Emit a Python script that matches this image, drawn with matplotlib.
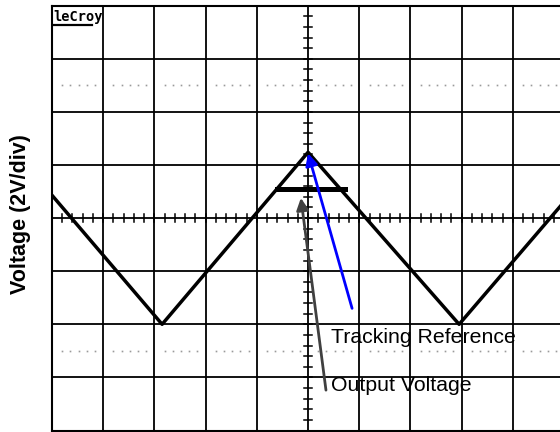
#!/usr/bin/env python3
"""
Oscilloscope capture: tracking reference (triangle) and clipped output voltage
"""
import numpy as np
import matplotlib
matplotlib.use("Agg")
import matplotlib.pyplot as plt

# trace vertices in scope divisions (x: time div, y: 2V/div)
ref_x = [-5.0, -2.85, 0.0, 2.95, 4.95]
ref_y = [0.43, -2.0, 1.24, -2.0, 0.25]

# output voltage clips flat near the top of the triangle
out_x = [-0.6, 0.72]
out_y = [0.54, 0.54]

# annotation (text position, arrow tip)
ann_ref = {"text": "Tracking Reference", "xy": (0.0, 1.22), "xytext": (0.86, -1.70),
           "label_at": (0.45, -2.24)}
ann_out = {"text": "Output Voltage", "xy": (-0.14, 0.38), "xytext": (0.35, -3.24),
           "label_at": (0.45, -3.16)}

ylabel = "Voltage (2V/div)"


def draw_graticule(ax):
    """
    Scope-like grid: solid division lines, dotted rows and ticked centre axes
    """
    for gx in range(-4, 5):
        ax.axvline(gx, color="black", lw=1.3, zorder=1)
    for gy in range(-3, 4):
        ax.axhline(gy, color="black", lw=1.3, zorder=1)
    # dotted rows at +/-2.5 div
    dots = np.array([0.2, 0.36, 0.52, 0.68, 0.84])
    for col in range(-5, 5):
        for gy in (-2.5, 2.5):
            ax.plot(col + dots, np.full(dots.size, gy), ls="none", marker="s",
                    ms=1.2, color="#9a9a9a", mew=0, zorder=1)
    # minor ticks on the centre axes
    for t in np.arange(-5, 5.01, 0.2):
        ax.plot([t, t], [-0.07, 0.07], color="black", lw=1.1, zorder=1)
    for t in np.arange(-4, 4.01, 0.2):
        ax.plot([-0.08, 0.08], [t, t], color="black", lw=1.1, zorder=1)


fig = plt.figure(figsize=(5.6, 4.32), dpi=100)
ax = fig.add_axes([52 / 560, 1.5 / 432, 508 / 560, 424.8 / 432])
ax.set_xlim(-5, 4.92)
ax.set_ylim(-4, 4)
ax.set_xticks([])
ax.set_yticks([])
for side in ("left", "top", "bottom"):
    ax.spines[side].set_linewidth(1.5)
ax.spines["right"].set_visible(False)

draw_graticule(ax)

ax.plot(ref_x, ref_y, color="black", lw=2.5, zorder=3)
ax.plot(out_x, out_y, color="black", lw=3.6, zorder=3)

# LeCroy badge
ax.text(-4.97, 3.92, "leCroy", family="DejaVu Sans Mono", weight="bold",
        fontsize=9.8, va="top", ha="left", zorder=4)
ax.plot([-4.97, -4.22], [3.63, 3.63], color="black", lw=1.6, zorder=4)

ax.annotate("", xy=ann_ref["xy"], xytext=ann_ref["xytext"],
            arrowprops=dict(arrowstyle="-|>", color="blue", lw=2,
                            mutation_scale=18, shrinkA=0, shrinkB=0), zorder=5)
ax.annotate("", xy=ann_out["xy"], xytext=ann_out["xytext"],
            arrowprops=dict(arrowstyle="-|>", color="#404040", lw=2,
                            mutation_scale=18, shrinkA=0, shrinkB=0), zorder=5)
for a in (ann_ref, ann_out):
    ax.text(*a["label_at"], a["text"], family="Liberation Sans", fontsize=15.3,
            va="center", ha="left", zorder=5)

fig.text(21 / 560, 1 - 214 / 432, ylabel, rotation=90, family="Liberation Sans",
         weight="bold", fontsize=15.5, va="center", ha="center")

fig.savefig("out.png", dpi=100)
